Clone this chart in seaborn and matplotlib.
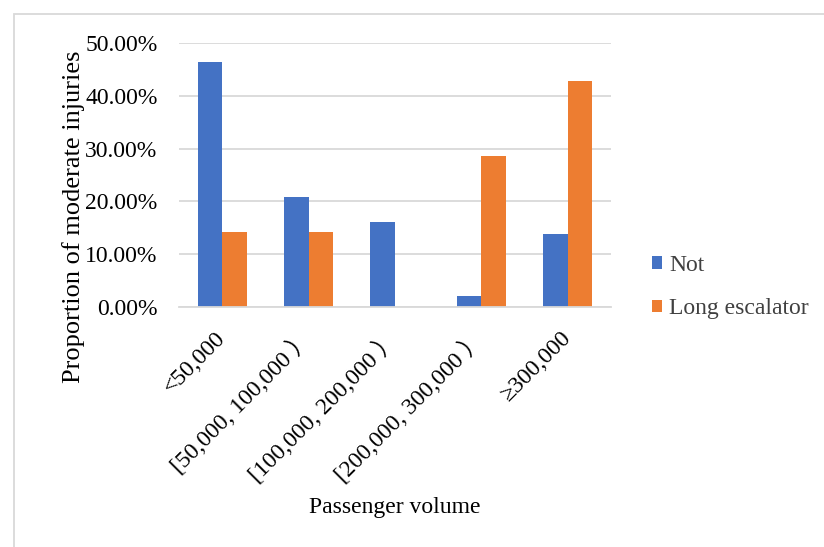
import matplotlib
matplotlib.use("Agg")
import matplotlib.pyplot as plt
from matplotlib.patches import Rectangle
import seaborn as sns
import pandas as pd

# Passenger-volume bands and the share of moderate injuries per escalator type
categories = ["<50,000", "[50,000, 100,000 ）", "[100,000, 200,000 ）",
              "[200,000, 300,000 ）", "≥300,000"]
not_long = [0.464, 0.208, 0.162, 0.021, 0.138]
long_escalator = [0.1429, 0.1429, 0.0, 0.2857, 0.4286]
series_names = ["Not", "Long escalator"]
yticks = [0.0, 0.1, 0.2, 0.3, 0.4, 0.5]

df = pd.DataFrame({
    "Passenger volume": categories * 2,
    "value": not_long + long_escalator,
    "type": [series_names[0]] * len(categories) + [series_names[1]] * len(categories),
})

sns.set_theme(style="white")
plt.rcParams["font.family"] = ["Liberation Serif", "Noto Sans CJK SC", "DejaVu Serif"]

fig = plt.figure(figsize=(8.24, 5.47), dpi=100)
ax = fig.add_axes([0.2172, 0.4382, 0.5243, 0.4837])

sns.barplot(data=df, x="Passenger volume", y="value", hue="type",
            palette=["#4472C4", "#ED7D31"], saturation=1, width=0.57, gap=0,
            linewidth=0, ax=ax, legend=True, errorbar=None)

ax.set_ylim(0, 0.5)
ax.set_yticks(yticks)
ax.set_yticklabels([f"{v * 100:.2f}%" for v in yticks])
ax.yaxis.grid(True, color="#D9D9D9", linewidth=1.3)
ax.set_axisbelow(True)
for side in ["top", "right", "left"]:
    ax.spines[side].set_visible(False)
ax.spines["bottom"].set_color("#D9D9D9")
ax.spines["bottom"].set_linewidth(1.3)
ax.tick_params(axis="both", length=0, labelsize=17, colors="black")
ax.tick_params(axis="y", pad=15.5)
ax.tick_params(axis="x", pad=20)
for lbl in ax.get_xticklabels():
    lbl.set_rotation(45)
    lbl.set_ha("right")
    lbl.set_va("center")
    lbl.set_rotation_mode("anchor")

ax.set_ylabel("Proportion of moderate injuries", fontsize=19, color="black", va="center")
ax.yaxis.set_label_coords(-0.245, 0.341)
ax.set_xlabel("Passenger volume", fontsize=17, color="black", va="center")
ax.xaxis.set_label_coords(0.5, -0.7585)

handles, labels = ax.get_legend_handles_labels()
ax.legend(handles, labels, loc="center left", bbox_to_anchor=(0.765, 0.475),
          bbox_transform=fig.transFigure, frameon=False, fontsize=17,
          handlelength=0.45, handleheight=0.45, handletextpad=0.3,
          labelspacing=0.95, labelcolor="#404040")

# Chart-area border
fig.patches.append(Rectangle((14 / 824, -0.1), 1.2, 1 - 14 / 547 + 0.1,
                             transform=fig.transFigure, fill=False,
                             edgecolor="#D9D9D9", linewidth=1.3))

fig.savefig("out.png", dpi=100)
